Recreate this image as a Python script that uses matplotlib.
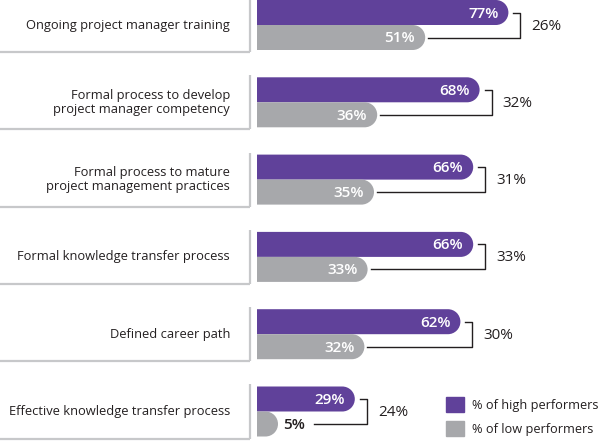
import matplotlib
matplotlib.use("Agg")
import matplotlib.pyplot as plt
from matplotlib.path import Path
from matplotlib.patches import PathPatch, Patch

plt.rcParams['font.family'] = ['Open Sans', 'DejaVu Sans']

categories = ["Ongoing project manager training",
              "Formal process to develop\nproject manager competency",
              "Formal process to mature\nproject management practices",
              "Formal knowledge transfer process",
              "Defined career path",
              "Effective knowledge transfer process"]
high = [77, 68, 66, 66, 62, 29]
low = [51, 36, 35, 33, 32, 5]
gap = [26, 32, 31, 33, 30, 24]

PURPLE = '#60419a'
GREY = '#a7a8ab'
DARK = '#231f20'
BOX = '#c7c8ca'

# layout in pixels
W, H = 600, 441
X0 = 262      # pixel where 0% sits
XS = 3.2      # pixels per percent
PITCH = 77.3  # pixels between groups
BAR_H = 25


def dx(p):
    return p / XS


def dy(p):
    return p / PITCH


fig = plt.figure(figsize=(W / 100, H / 100), dpi=100)
ax = fig.add_axes([0, 0, 1, 1])
ax.set_xlim(-X0 / XS, (W - X0) / XS)
ax.set_ylim(H / PITCH, 0)
ax.axis('off')

start = dx(257 - X0)


def rounded_bar(ytop, value, color):
    h = dy(BAR_H)
    rx, ry = dx(BAR_H / 2), h / 2
    cx = max(value - rx, start)
    yc = ytop + h / 2
    arc = Path.arc(-90, 90)
    verts = [(start, yc - ry)] + [(cx + vx * rx, yc + vy * ry) for vx, vy in arc.vertices]
    verts += [(start, yc + ry), (start, yc - ry)]
    codes = [Path.MOVETO, Path.LINETO] + list(arc.codes[1:]) + [Path.LINETO, Path.CLOSEPOLY]
    ax.add_patch(PathPatch(Path(verts, codes), facecolor=color, edgecolor='none'))
    return yc


for i, cat in enumerate(categories):
    top = i
    yh = rounded_bar(top, high[i], PURPLE)
    yl = rounded_bar(top + dy(BAR_H), low[i], GREY)

    # label box
    ax.plot([dx(250 - X0)] * 2, [top - dy(2), top + dy(52)], color=BOX, lw=1.6,
            solid_capstyle='butt')
    ax.plot([-X0 / XS, dx(250 - X0)], [top + dy(52)] * 2, color=BOX, lw=1.6,
            solid_capstyle='butt')
    ax.text(dx(230 - X0), top + dy(25), cat, ha='right', va='center', fontsize=9.3,
            color=DARK, linespacing=1.1)

    # value labels
    ax.text(high[i] - dx(10), yh + dy(1), f"{high[i]}%", ha='right', va='center',
            fontsize=11, fontweight='semibold', color='white')
    if low[i] >= 10:
        ax.text(low[i] - dx(10), yl + dy(1), f"{low[i]}%", ha='right', va='center',
                fontsize=11, fontweight='semibold', color='white')
        lstart = low[i] + dx(3)
    else:
        ax.text(low[i] + dx(5), yl + dy(1), f"{low[i]}%", ha='left', va='center',
                fontsize=11, fontweight='semibold', color=DARK)
        lstart = low[i] + dx(36)

    # bracket with difference
    xb = high[i] + dx(12)
    ax.plot([high[i] + dx(5), xb, xb, lstart], [yh, yh, yl, yl], color=DARK, lw=1.0)
    ax.text(xb + dx(11), top + dy(26), f"{gap[i]}%", ha='left', va='center',
            fontsize=11, color=DARK)

handles = [Patch(color=PURPLE, label='% of high performers'),
           Patch(color=GREY, label='% of low performers')]
fig.legend(handles=handles, loc='upper left', bbox_to_anchor=(446 / W, 1 - 397 / H),
           frameon=False, fontsize=9.2, handlelength=1.4, handleheight=1.4,
           handletextpad=0.6, labelspacing=0.75, borderpad=0, borderaxespad=0,
           labelcolor=DARK)

fig.savefig('out.png', dpi=100)
